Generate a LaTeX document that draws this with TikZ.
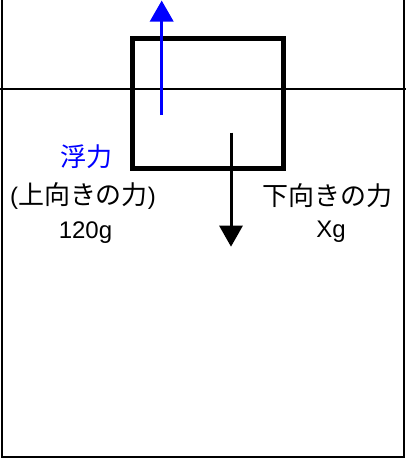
\documentclass[tikz,border=0pt]{standalone}
\usepackage{fontspec}
\setmainfont{Liberation Sans}
\newfontfamily\cjk{Noto Sans CJK JP}[Scale=1.083]
\usetikzlibrary{arrows.meta}
\newcommand\jp[1]{{\cjk #1}}
\tikzset{
  wall/.style={line width=2pt, black},
  surface/.style={line width=1.6pt, black},
  block/.style={line width=4.5pt, black},
  upforce/.style={line width=3.5pt, color={rgb,255:red,0;green,0;blue,255}, -{Triangle[length=21pt,width=23pt]}},
  downforce/.style={line width=3pt, black, -{Triangle[length=21pt,width=23pt]}},
  lbl/.style={anchor=base, inner sep=0pt, font=\fontsize{24}{28}\selectfont},
}
\begin{document}
\begin{tikzpicture}[x=1pt,y=-1pt]
\useasboundingbox (0,0) rectangle (406,459);
% container
\coordinate (tl) at (2,0);
\coordinate (bl) at (2,457);
\coordinate (br) at (404,457);
\coordinate (tr) at (404,0);
\draw[wall] (tl) -- (bl) -- (br) -- (tr);
% water surface
\coordinate (wl) at (0,89);
\coordinate (wr) at (406,89);
\draw[surface] (wl) -- (wr);
% block
\coordinate (b1) at (132.5,38.5);
\coordinate (b2) at (283.3,168.5);
\draw[block] (b1) rectangle (b2);
% forces
\coordinate (us) at (161.7,115);
\coordinate (ue) at (161.7,0.5);
\draw[upforce] (us) -- (ue);
\coordinate (ds) at (231,132.7);
\coordinate (de) at (231,246.7);
\draw[downforce] (ds) -- (de);
% labels
\node[lbl, text={rgb,255:red,0;green,0;blue,255}] (fuk) at (86.7,166.5) {\jp{浮力}};
\node[lbl] (upw) at (83,204.5) {(\jp{上向きの力})};
\node[lbl] (w120) at (85.5,238.3) {120g};
\node[lbl] (dnw) at (327.5,205.5) {\jp{下向きの力}};
\node[lbl] (xg) at (331,237.7) {Xg};
\end{tikzpicture}
\end{document}
